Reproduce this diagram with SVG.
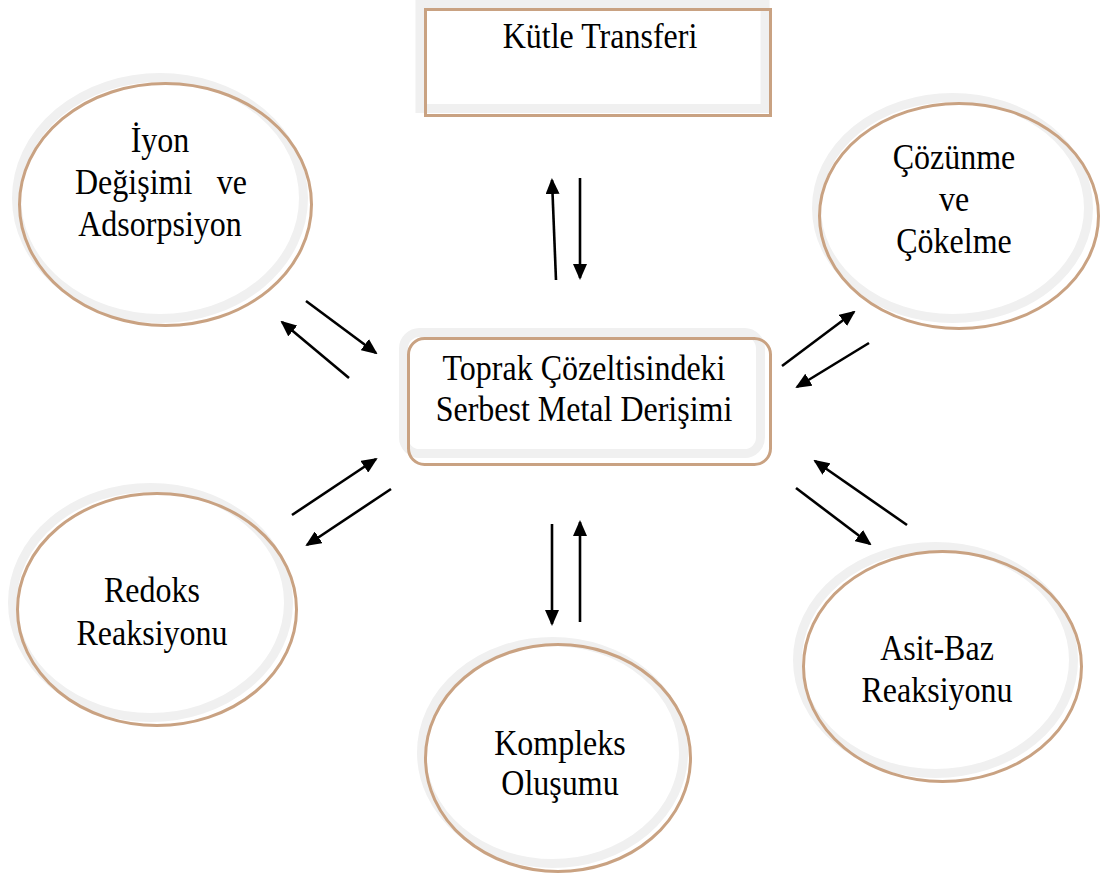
<svg xmlns="http://www.w3.org/2000/svg" width="1107" height="876" viewBox="0 0 1107 876">
  <style>
    .band { fill: #ffffff; stroke: #f0f0f0; stroke-width: 9; }
    .rim { fill: none; stroke: #c9a282; stroke-width: 3; }
    .lbl { font-family: "Liberation Serif", "Times New Roman", serif; font-size: 32px; fill: #000000; }
    .arr { stroke: #000000; stroke-width: 2.6; fill: none; marker-end: url(#head); }
  </style>
  <defs>
    <marker id="head" markerUnits="userSpaceOnUse" markerWidth="16" markerHeight="14" viewBox="0 0 16 14" refX="14" refY="7" orient="auto">
      <path d="M0,0 L16,7 L0,14 z" fill="#000000"/>
    </marker>
  </defs>
  <rect width="1107" height="876" fill="#ffffff"/>

  <!-- Mass transfer box -->
  <g id="kutle-transferi">
    <rect class="band" x="420" y="3.5" width="345" height="105" stroke-width="8"/>
    <rect class="rim" x="425.5" y="9.5" width="345" height="106"/>
    <text class="lbl" text-anchor="middle" transform="translate(600 48) scale(1 1.1)">Kütle Transferi</text>
  </g>

  <!-- Central box -->
  <g id="serbest-metal">
    <rect class="band" x="403.5" y="332.5" width="357" height="121" rx="16"/>
    <rect class="rim" x="408.5" y="338.5" width="362" height="126" rx="16"/>
    <text class="lbl" text-anchor="middle" transform="translate(584 380) scale(1 1.1)">Toprak Çözeltisindeki</text>
    <text class="lbl" text-anchor="middle" transform="translate(584 421) scale(1 1.1)">Serbest Metal Derişimi</text>
  </g>

  <!-- Ion exchange -->
  <g id="iyon-degisimi">
    <ellipse class="band" cx="160" cy="198" rx="143.5" ry="120.5"/>
    <ellipse class="rim" cx="165.5" cy="204.5" rx="146" ry="121"/>
    <text class="lbl" text-anchor="middle" transform="translate(160 152) scale(1 1.1)">İyon</text>
    <text class="lbl" text-anchor="start" transform="translate(75 194) scale(1 1.1)">Değişimi</text>
    <text class="lbl" text-anchor="end" transform="translate(247 194) scale(1 1.1)">ve</text>
    <text class="lbl" text-anchor="middle" transform="translate(160 236) scale(1 1.1)">Adsorpsiyon</text>
  </g>

  <!-- Dissolution / precipitation -->
  <g id="cozunme">
    <ellipse class="band" cx="952.5" cy="208" rx="136" ry="110.5"/>
    <ellipse class="rim" cx="959" cy="216" rx="139.5" ry="112.5"/>
    <text class="lbl" text-anchor="middle" transform="translate(954 169) scale(1 1.1)">Çözünme</text>
    <text class="lbl" text-anchor="middle" transform="translate(954 211) scale(1 1.1)">ve</text>
    <text class="lbl" text-anchor="middle" transform="translate(954 253) scale(1 1.1)">Çökelme</text>
  </g>

  <!-- Redox -->
  <g id="redoks">
    <ellipse class="band" cx="150.5" cy="602.5" rx="138" ry="115"/>
    <ellipse class="rim" cx="157" cy="609.5" rx="139.5" ry="116"/>
    <text class="lbl" text-anchor="middle" transform="translate(152 602) scale(1 1.1)">Redoks</text>
    <text class="lbl" text-anchor="middle" transform="translate(152 645) scale(1 1.1)">Reaksiyonu</text>
  </g>

  <!-- Complex formation -->
  <g id="kompleks">
    <ellipse class="band" cx="552.5" cy="752.5" rx="131" ry="111"/>
    <ellipse class="rim" cx="558" cy="758" rx="132.5" ry="113.5"/>
    <text class="lbl" text-anchor="middle" transform="translate(560 755) scale(1 1.1)">Kompleks</text>
    <text class="lbl" text-anchor="middle" transform="translate(560 795) scale(1 1.1)">Oluşumu</text>
  </g>

  <!-- Acid-base -->
  <g id="asit-baz">
    <ellipse class="band" cx="935.5" cy="660" rx="138" ry="113.5"/>
    <ellipse class="rim" cx="942.5" cy="666.5" rx="139" ry="115"/>
    <text class="lbl" text-anchor="middle" transform="translate(937 660) scale(1 1.1)">Asit-Baz</text>
    <text class="lbl" text-anchor="middle" transform="translate(937 702) scale(1 1.1)">Reaksiyonu</text>
  </g>

  <!-- Reversible arrow pairs -->
  <g id="connectors">
    <line class="arr" x1="556" y1="280" x2="552" y2="180"/>
    <line class="arr" x1="580" y1="178" x2="580" y2="278"/>
    <line class="arr" x1="552" y1="524" x2="552" y2="624"/>
    <line class="arr" x1="580" y1="622" x2="580" y2="522"/>
    <line class="arr" x1="306" y1="301" x2="376" y2="353"/>
    <line class="arr" x1="349" y1="378" x2="282" y2="322"/>
    <line class="arr" x1="782" y1="366" x2="854" y2="312"/>
    <line class="arr" x1="869" y1="343" x2="797" y2="387"/>
    <line class="arr" x1="292" y1="515" x2="376" y2="459"/>
    <line class="arr" x1="391" y1="489" x2="307" y2="545"/>
    <line class="arr" x1="907" y1="525" x2="815" y2="461"/>
    <line class="arr" x1="796" y1="488" x2="870" y2="544"/>
  </g>
</svg>
